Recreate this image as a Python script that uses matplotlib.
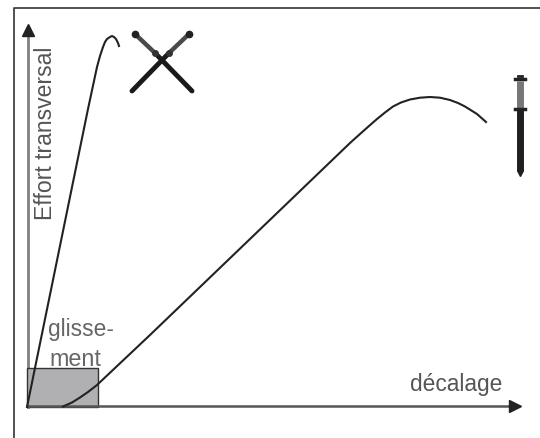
import matplotlib.pyplot as plt
from matplotlib.patches import Rectangle

# everything in pixels
curve1_x = [27, 88, 97, 100, 103, 105, 107, 110, 112, 114, 116, 118, 119]
curve1_y = [408, 110, 68, 57, 48, 43, 40, 38, 37, 38, 40, 44, 47]
curve2_x = [63, 72, 80, 88, 97, 150, 200, 250, 300, 350, 360, 369, 377, 385, 393, 401, 410, 420, 430, 440, 450, 458, 465, 477, 486]
curve2_y = [407.5, 403.5, 398.5, 393, 386, 336, 288, 240, 192, 144, 135, 127, 120, 113.5, 107.5, 103.5, 100.5, 98.7, 98, 98.7, 101, 104, 107.5, 115, 123]

plt.rcParams["font.family"] = ["Liberation Sans", "DejaVu Sans"]

fig = plt.figure(figsize=(5.4, 4.39), dpi=100)
ax = fig.add_axes([0, 0, 1, 1])
ax.set_xlim(0, 540)
ax.set_ylim(439, 0)
ax.axis("off")

# frame
ax.plot([14, 14, 540], [439, 8.5, 8.5], color="#333333", lw=1.2)

# slip box
ax.add_patch(Rectangle((27, 369), 71, 39, facecolor="#b0b0b2", edgecolor="#333333", lw=1.0, zorder=2))

# axes arrows
ax.plot([28, 28], [408, 34], color="#808080", lw=2.0, zorder=1)
ax.plot([28], [31], marker="^", ms=8, color="#222222", zorder=3)
ax.plot([27, 511], [407.5, 407.5], color="#555555", lw=1.8, zorder=2)
ax.plot([515], [407.5], marker=">", ms=8, color="#222222", zorder=3)

ax.plot(curve1_x, curve1_y, color="#222222", lw=1.5, zorder=3)
ax.plot(curve2_x, curve2_y, color="#222222", lw=1.5, zorder=3)

# crossed swords
ax.plot([155, 192], [54, 92], color="#1a1a1a", lw=3.5, solid_capstyle="round", zorder=3)
ax.plot([169, 132], [54, 92], color="#1a1a1a", lw=3.5, solid_capstyle="round", zorder=3)
ax.plot([135, 155], [35, 54], color="#4a4a4a", lw=3.2, zorder=4)
ax.plot([189, 169], [35, 54], color="#4a4a4a", lw=3.2, zorder=4)
ax.plot([135, 189], [35, 35], ls="none", marker="o", ms=4.5, color="#222222", zorder=5)
ax.plot([155, 169], [54, 54], ls="none", marker="o", ms=4, color="#333333", zorder=5)

# upright sword
ax.plot([520, 520], [110, 172], color="#1f1f1f", lw=5, solid_capstyle="butt", zorder=3)
ax.plot([520], [174], marker="v", ms=4.5, color="#1f1f1f", zorder=3)
ax.plot([520, 520], [82, 109], color="#777777", lw=5, solid_capstyle="butt", zorder=4)
ax.plot([515, 525], [80, 80], color="#222222", lw=2.5, zorder=4)
ax.plot([518, 522], [77, 77], color="#222222", lw=2, zorder=4)
ax.plot([515, 525], [110, 110], color="#222222", lw=2.5, zorder=4)

ax.text(46, 133, "Effort transversal", rotation=90, ha="center", va="center", fontsize=16.6, color="#555555")
ax.text(48, 330, "glisse-", ha="left", va="center", fontsize=16.4, color="#666666")
ax.text(49, 360, "ment", ha="left", va="center", fontsize=16.8, color="#666666")
ax.text(456, 385, "décalage", ha="center", va="center", fontsize=16.4, color="#555555")

fig.savefig("out.png", dpi=100)
